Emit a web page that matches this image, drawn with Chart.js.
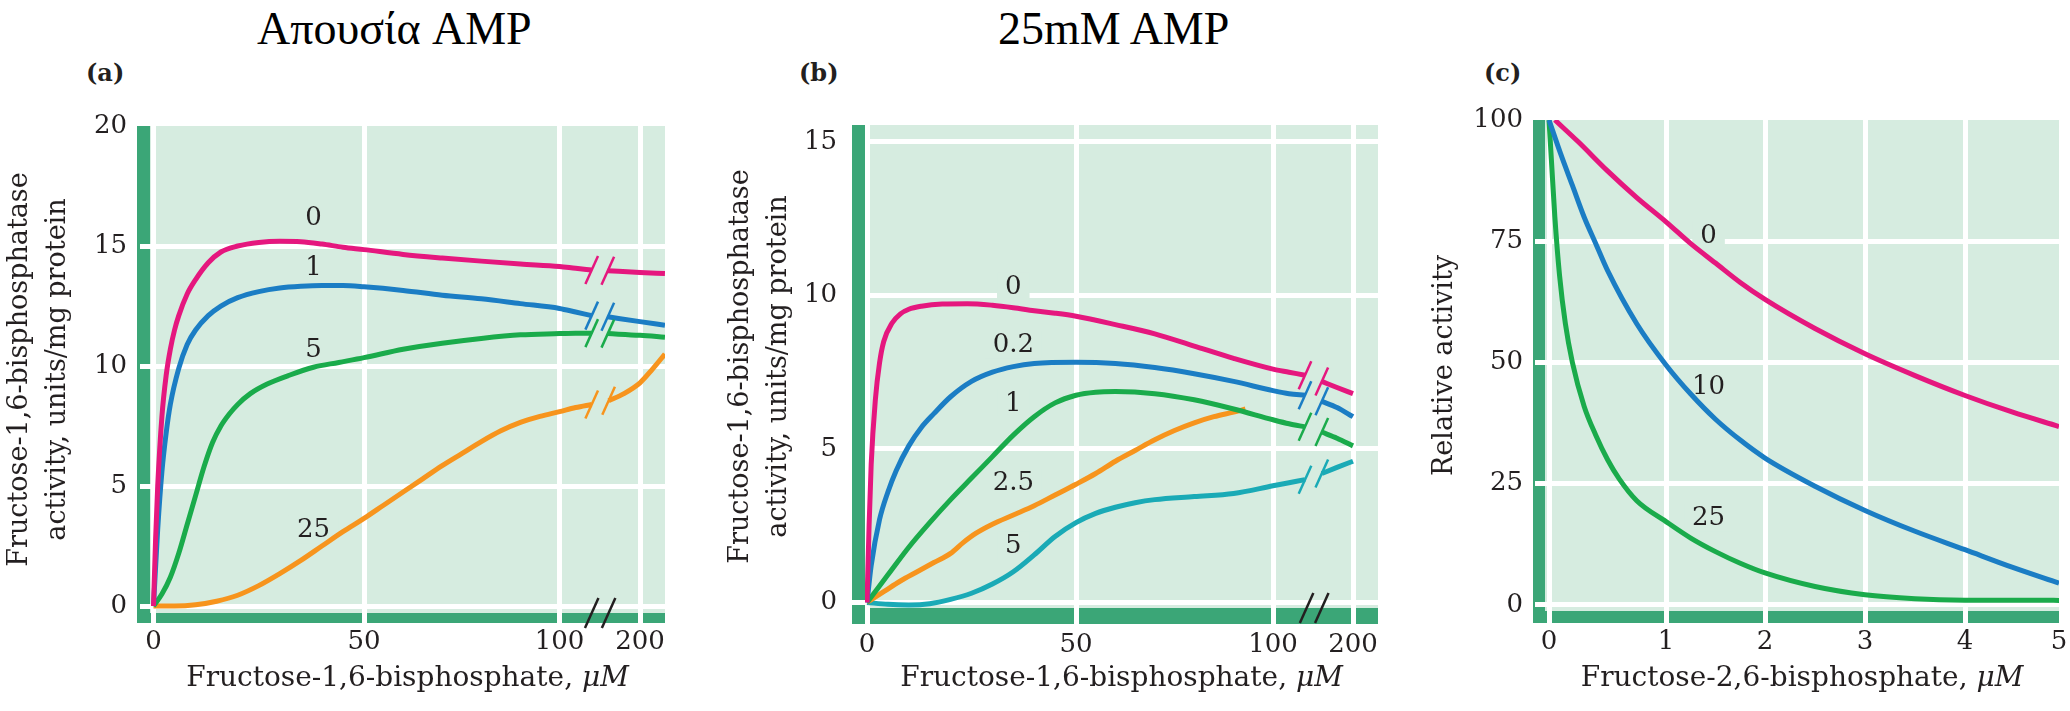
<!DOCTYPE html>
<html>
<head>
<meta charset="utf-8">
<script src="https://cdn.jsdelivr.net/npm/chart.js@4.4.1/dist/chart.umd.min.js"></script>
<style>
  html, body { margin: 0; padding: 0; background: #fff; }
  body { width: 2070px; height: 711px; position: relative; overflow: hidden; font-family: 'Liberation Serif', serif; color: #231f20; }
  canvas { position: absolute; top: 100px; }
  .title { position: absolute; top: 6px; font-size: 46px; line-height: 46px; white-space: nowrap; color: #000; }
  .panel { position: absolute; top: 60px; font-family: 'DejaVu Serif', serif; font-size: 24px; line-height: 26px; font-weight: bold; }
</style>
</head>
<body>
<div class="title" style="left:257px">Απουσία AMP</div>
<div class="title" style="left:998px">25mM AMP</div>
<div class="panel" style="left:86px">(a)</div>
<div class="panel" style="left:799px">(b)</div>
<div class="panel" style="left:1484px">(c)</div>
<canvas id="chartA" width="700" height="611" style="left:0px"></canvas>
<canvas id="chartB" width="700" height="611" style="left:700px"></canvas>
<canvas id="chartC" width="670" height="611" style="left:1400px"></canvas>
<script>
// ---- data ----
// (a) no AMP: activity vs F-1,6-BP (uM), one curve per F-2,6-BP level; null = axis break
const xTicksA = [0, 50, 100, 200];
const yTicksA = [0, 5, 10, 15, 20];
const curveA0 = [[0,0],[0.5,2.8],[1,5],[2,7.9],[3,9.6],[4,10.7],[5,11.5],[6,12.1],[8,13.0],[10,13.6],[13,14.3],[16,14.75],[20,15.0],[25,15.15],[30,15.2],[35,15.18],[40,15.08],[45,14.95],[50,14.85],[60,14.65],[70,14.5],[80,14.37],[90,14.25],[100,14.15],[120,14.07],[140,14.0],[150,null],[160,13.97],[200,13.9],[231,13.85]];
const curveA1 = [[0,0],[1,3.2],[2,5.6],[3,7.2],[4,8.4],[6,9.9],[8,10.9],[10,11.5],[13,12.1],[16,12.5],[20,12.85],[25,13.1],[30,13.25],[35,13.32],[40,13.35],[45,13.35],[50,13.3],[60,13.15],[70,12.95],[80,12.8],[90,12.6],[100,12.4],[120,12.25],[140,12.1],[150,null],[160,12.05],[200,11.85],[231,11.7]];
const curveA5 = [[0,0],[2,0.5],[4,1.2],[6,2.2],[8,3.4],[10,4.6],[12,5.8],[14,6.8],[16,7.5],[18,8.0],[20,8.4],[23,8.85],[27,9.25],[32,9.6],[38,9.95],[44,10.15],[50,10.35],[60,10.7],[70,10.95],[80,11.15],[90,11.3],[100,11.35],[120,11.37],[140,11.37],[150,null],[160,11.35],[200,11.28],[231,11.2]];
const curveA25 = [[0,0],[5,0],[10,0.05],[15,0.2],[20,0.45],[25,0.85],[30,1.35],[35,1.9],[40,2.5],[45,3.1],[50,3.65],[55,4.2],[60,4.75],[65,5.3],[70,5.85],[75,6.35],[80,6.85],[85,7.3],[90,7.65],[95,7.9],[100,8.1],[120,8.27],[140,8.4],[150,null],[161,8.55],[180,8.85],[200,9.3],[215,9.85],[231,10.5]];
const labelsA = [['0', 38, 16.2], ['1', 38, 14.1], ['5', 38, 10.7], ['25', 38, 3.2]];

// (b) 25 mM AMP
const xTicksB = [0, 50, 100, 200];
const yTicksB = [0, 5, 10, 15];
const curveB0 = [[0,0],[0.5,2.5],[1,4.5],[2,6.6],[3,7.8],[4,8.5],[6,9.1],[8,9.4],[10,9.55],[13,9.65],[18,9.72],[24,9.73],[30,9.68],[35,9.6],[40,9.5],[45,9.42],[50,9.32],[60,9.05],[70,8.75],[80,8.35],[90,7.95],[100,7.6],[120,7.5],[140,7.4],[150,null],[161,7.2],[180,7.0],[200,6.8]];
const curveB02 = [[0,0],[1,1.2],[3,2.7],[5,3.6],[7,4.3],[10,5.1],[13,5.7],[16,6.15],[20,6.7],[25,7.2],[30,7.5],[35,7.68],[40,7.78],[50,7.82],[60,7.78],[70,7.65],[80,7.45],[90,7.2],[100,6.9],[120,6.8],[140,6.75],[150,null],[161,6.55],[180,6.35],[200,6.05]];
const curveB1 = [[0,0],[5,0.9],[10,1.8],[15,2.6],[20,3.35],[25,4.05],[30,4.75],[35,5.45],[40,6.05],[45,6.5],[50,6.75],[55,6.85],[60,6.87],[70,6.8],[80,6.6],[90,6.3],[100,5.95],[120,5.82],[140,5.72],[150,null],[161,5.55],[180,5.35],[200,5.1]];
const curveB25 = [[0,0],[4,0.35],[8,0.7],[12,1.0],[16,1.3],[20,1.6],[23,1.95],[26,2.25],[30,2.55],[35,2.85],[40,3.15],[45,3.5],[50,3.85],[55,4.2],[60,4.6],[65,4.95],[70,5.3],[75,5.6],[80,5.85],[85,6.05],[90,6.2],[93,6.3]];
const curveB5 = [[0,0],[5,-0.06],[10,-0.08],[15,-0.04],[20,0.1],[25,0.3],[30,0.6],[35,1.0],[40,1.55],[45,2.15],[50,2.6],[55,2.9],[60,3.1],[65,3.25],[70,3.35],[80,3.45],[90,3.55],[100,3.8],[120,3.9],[140,4.0],[150,null],[161,4.2],[180,4.4],[200,4.6]];
const labelsB = [['0', 35, 10.3], ['0.2', 35, 8.4], ['1', 35, 6.5], ['2.5', 35, 3.9], ['5', 35, 1.85]];

// (c) relative activity vs F-2,6-BP (uM), one curve per AMP level
const xTicksC = [0, 1, 2, 3, 4, 5];
const yTicksC = [0, 25, 50, 75, 100];
const curveC0 = [[0.05,100],[0.25,95.5],[0.5,89.5],[0.75,84],[1,79],[1.25,74.5],[1.5,70.5],[1.75,66.5],[2,63],[2.5,57],[3,51.8],[3.5,47.3],[4,43.2],[4.5,39.8],[5,36.8]];
const curveC10 = [[0,100],[0.1,93],[0.2,86.5],[0.3,80],[0.4,74.5],[0.5,69],[0.75,58],[1,49.5],[1.25,43.5],[1.5,38.3],[1.75,34],[2,30.3],[2.5,24.5],[3,19.5],[3.5,15.2],[4,11.4],[4.5,7.8],[5,4.5]];
const curveC25 = [[0,100],[0.02,92],[0.05,80],[0.09,68],[0.14,58],[0.2,50],[0.3,41],[0.4,35],[0.5,30],[0.6,26],[0.75,21.5],[1,17.2],[1.25,13.8],[1.5,11],[1.75,8.6],[2,6.6],[2.5,3.8],[3,2.1],[3.5,1.3],[4,1.0],[5,0.95]];
const labelsC = [['0', 1.43, 76.2], ['10', 1.43, 45], ['25', 1.43, 18]];

// ---- styles ----
const INK = '#231f20';
const MINT = '#d6ece0';
const BAR = '#3ba677';
const PINK = '#e5177e', BLUE = '#1b7dc4', GREEN = '#1aab4b', ORANGE = '#f7941d', CYAN = '#1aaab6';
const SERIF = "'DejaVu Serif', 'Liberation Serif', serif";

Chart.defaults.font.family = SERIF;
Chart.defaults.color = INK;

// linear scale with a break: value -> pixel offset given by anchor pairs
class BrokenScale extends Chart.LinearScale {
  static id = 'broken';
  static defaults = {};
  getPixelForValue(value) {
    if (value === null || value === undefined) return NaN;
    const a = this.options.anchors;
    let i = 1;
    while (i < a.length - 1 && value > a[i][0]) i++;
    const [v0, p0] = a[i - 1], [v1, p1] = a[i];
    const off = p0 + (value - v0) * (p1 - p0) / (v1 - v0);
    return this.isHorizontal() ? this.left + off : this.bottom - off;
  }
  getValueForPixel(pixel) {
    const a = this.options.anchors;
    const off = this.isHorizontal() ? pixel - this.left : this.bottom - pixel;
    let i = 1;
    while (i < a.length - 1 && off > a[i][1]) i++;
    const [v0, p0] = a[i - 1], [v1, p1] = a[i];
    return v0 + (off - p0) * (v1 - v0) / (p1 - p0);
  }
}
Chart.register(BrokenScale);

function slash(ctx, px, py, color, half) {
  ctx.strokeStyle = color;
  ctx.beginPath();
  ctx.moveTo(px - half * 0.45, py + half);
  ctx.lineTo(px + half * 0.45, py - half);
  ctx.stroke();
}

const panelDecor = {
  id: 'panelDecor',
  beforeDraw(chart, args, opts) {
    const {ctx, chartArea: a} = chart;
    ctx.save();
    ctx.fillStyle = MINT;
    ctx.fillRect(a.left, a.top, a.right - a.left, a.bottom - a.top);
    ctx.fillStyle = BAR;
    ctx.fillRect(a.left - opts.barLeft, a.top, opts.barLeft, a.bottom - a.top + opts.barBottom);
    ctx.fillRect(a.left - opts.barLeft, a.bottom, a.right - a.left + opts.barLeft, opts.barBottom);
    ctx.restore();
  },
  beforeDatasetsDraw(chart, args, opts) {
    const {ctx, scales: {x, y}} = chart;
    ctx.save();
    ctx.font = '26px ' + SERIF;
    ctx.textAlign = 'center';
    ctx.textBaseline = 'middle';
    opts.labels.forEach(([text, vx, vy]) => {
      const px = x.getPixelForValue(vx), py = y.getPixelForValue(vy);
      const w = ctx.measureText(text).width + 16;
      ctx.fillStyle = MINT;
      ctx.fillRect(px - w / 2, py - 14, w, 28);
      ctx.fillStyle = INK;
      ctx.fillText(text, px, py + 1);
    });
    ctx.restore();
  },
  afterDatasetsDraw(chart, args, opts) {
    const {ctx, scales: {x, y}, chartArea: a} = chart;
    ctx.save();
    ctx.lineWidth = 2.5;
    chart.data.datasets.forEach(ds => {
      const d = ds.data;
      d.forEach((p, i) => {
        if (p.y !== null) return;
        [d[i - 1], d[i + 1]].forEach(q => {
          if (q) slash(ctx, x.getPixelForValue(q.x), y.getPixelForValue(q.y), ds.borderColor, 14);
        });
      });
    });
    (opts.axisBreak || []).forEach(v => slash(ctx, x.getPixelForValue(v), a.bottom, INK, 15));
    // x axis title, with italic unit
    const [main, unit] = opts.xTitle;
    ctx.font = '28px ' + SERIF;
    const w1 = ctx.measureText(main).width;
    ctx.font = 'italic 28px ' + SERIF;
    const w2 = ctx.measureText(unit).width;
    const tx = (a.left + a.right) / 2 - (w1 + w2) / 2;
    ctx.fillStyle = INK;
    ctx.textBaseline = 'middle';
    ctx.textAlign = 'left';
    ctx.font = '28px ' + SERIF;
    ctx.fillText(main, tx, opts.xTitleY);
    ctx.font = 'italic 28px ' + SERIF;
    ctx.fillText(unit, tx + w1, opts.xTitleY);
    ctx.restore();
  }
};

function makeChart(id, cfg) {
  const hideX = cfg.hideX || [], hideY = cfg.hideY || [];
  return new Chart(document.getElementById(id), {
    type: 'line',
    data: {
      datasets: cfg.series.map((s, i) => ({
        data: s.map(([x, y]) => ({x, y})),
        borderColor: cfg.colors[i],
        borderWidth: 5,
        pointRadius: 0,
        cubicInterpolationMode: 'monotone',
        spanGaps: false,
        fill: false
      }))
    },
    options: {
      responsive: false,
      animation: false,
      events: [],
      layout: { padding: cfg.padding },
      plugins: {
        legend: { display: false },
        tooltip: { enabled: false },
        panelDecor: {
          barLeft: cfg.barLeft, barBottom: cfg.barBottom, labels: cfg.labels,
          axisBreak: cfg.axisBreak, xTitle: ['Fructose-' + cfg.sugar + '-bisphosphate, ', 'μM'], xTitleY: 579
        }
      },
      scales: {
        x: {
          type: 'broken',
          anchors: cfg.xAnchors,
          min: cfg.xMin, max: cfg.xMax,
          afterBuildTicks: s => { s.ticks = cfg.xTicks.map(v => ({value: v})); },
          afterFit: s => { s.height = cfg.xHeight; s.paddingLeft = s.paddingRight = 0; },
          grid: {
            color: c => hideX.includes(c.tick.value) ? 'rgba(0,0,0,0)' : '#fff',
            lineWidth: 5,
            tickLength: cfg.barBottom
          },
          border: { display: false },
          ticks: { font: { size: 26 }, padding: cfg.xTickPad, maxRotation: 0, autoSkip: false, callback: v => String(v) },
          title: { display: false }
        },
        y: {
          type: 'linear',
          min: cfg.yMin, max: cfg.yMax,
          afterBuildTicks: s => { s.ticks = cfg.yTicks.map(v => ({value: v})); },
          afterFit: s => { s.width = cfg.yWidth; s.paddingTop = s.paddingBottom = 0; },
          grid: {
            color: c => hideY.includes(c.tick.value) ? 'rgba(0,0,0,0)' : '#fff',
            tickColor: cfg.yTickColor || (c => hideY.includes(c.tick.value) ? 'rgba(0,0,0,0)' : '#fff'),
            lineWidth: 5,
            tickLength: cfg.yTickLen
          },
          border: { display: false },
          ticks: { font: { size: 26 }, padding: cfg.yTickPad, callback: v => String(v) },
          title: {
            display: true,
            text: cfg.yTitle,
            color: INK,
            font: { size: 27, lineHeight: 1.41 },
            padding: { top: cfg.yTitlePad, bottom: 0 }
          }
        }
      }
    },
    plugins: [panelDecor]
  });
}

function drawAll() {
  makeChart('chartA', {
    series: [curveA0, curveA1, curveA5, curveA25],
    colors: [PINK, BLUE, GREEN, ORANGE],
    labels: labelsA,
    sugar: '1,6',
    padding: { left: 0, top: 26, right: 35, bottom: 0 },
    yWidth: 150, xHeight: 98,
    barLeft: 13, barBottom: 10,
    xAnchors: [[0, 3.5], [50, 214], [100, 409.5], [200, 490]],
    xMin: -0.8, xMax: 231, xTicks: xTicksA, xTickPad: 4,
    yMin: -0.29, yMax: 20, yTicks: yTicksA, yTickLen: 10, yTickPad: 13,
    hideY: [20],
    axisBreak: [140, 161],
    yTitle: ['Fructose-1,6-bisphosphatase', 'activity, units/mg protein'], yTitlePad: 1
  });

  makeChart('chartB', {
    series: [curveB0, curveB02, curveB1, curveB25, curveB5],
    colors: [PINK, BLUE, GREEN, ORANGE, CYAN],
    labels: labelsB,
    sugar: '1,6',
    padding: { left: 0, top: 25, right: 22, bottom: 0 },
    yWidth: 165, xHeight: 103,
    barLeft: 13, barBottom: 16,
    xAnchors: [[0, 2], [50, 211], [100, 408], [200, 488]],
    xMin: -0.5, xMax: 231, xTicks: xTicksB, xTickPad: 6,
    yMin: -0.18, yMax: 15.55, yTicks: yTicksB, yTickLen: 13, yTickPad: 15,
    yTickColor: c => c.tick.value === 0 ? '#fff' : 'rgba(0,0,0,0)',
    axisBreak: [142, 161],
    yTitle: ['Fructose-1,6-bisphosphatase', 'activity, units/mg protein'], yTitlePad: 22
  });

  makeChart('chartC', {
    series: [curveC0, curveC10, curveC25],
    colors: [PINK, BLUE, GREEN],
    labels: labelsC,
    sugar: '2,6',
    padding: { left: 0, top: 20, right: 11, bottom: 0 },
    yWidth: 145, xHeight: 100,
    barLeft: 12, barBottom: 12,
    xAnchors: [[0, 4], [1, 121], [2, 220], [3, 320], [4, 420], [5, 514]],
    xMin: -0.03, xMax: 5, xTicks: xTicksC, xTickPad: 4,
    yMin: -1.24, yMax: 100, yTicks: yTicksC, yTickLen: 10, yTickPad: 12,
    hideX: [5], hideY: [100],
    axisBreak: [],
    yTitle: 'Relative activity', yTitlePad: 26
  });
}

// canvas text needs the serif face loaded before drawing
Promise.all([
  document.fonts.load('26px "DejaVu Serif"'),
  document.fonts.load('italic 28px "DejaVu Serif"')
]).then(drawAll, drawAll);
</script>
</body>
</html>
